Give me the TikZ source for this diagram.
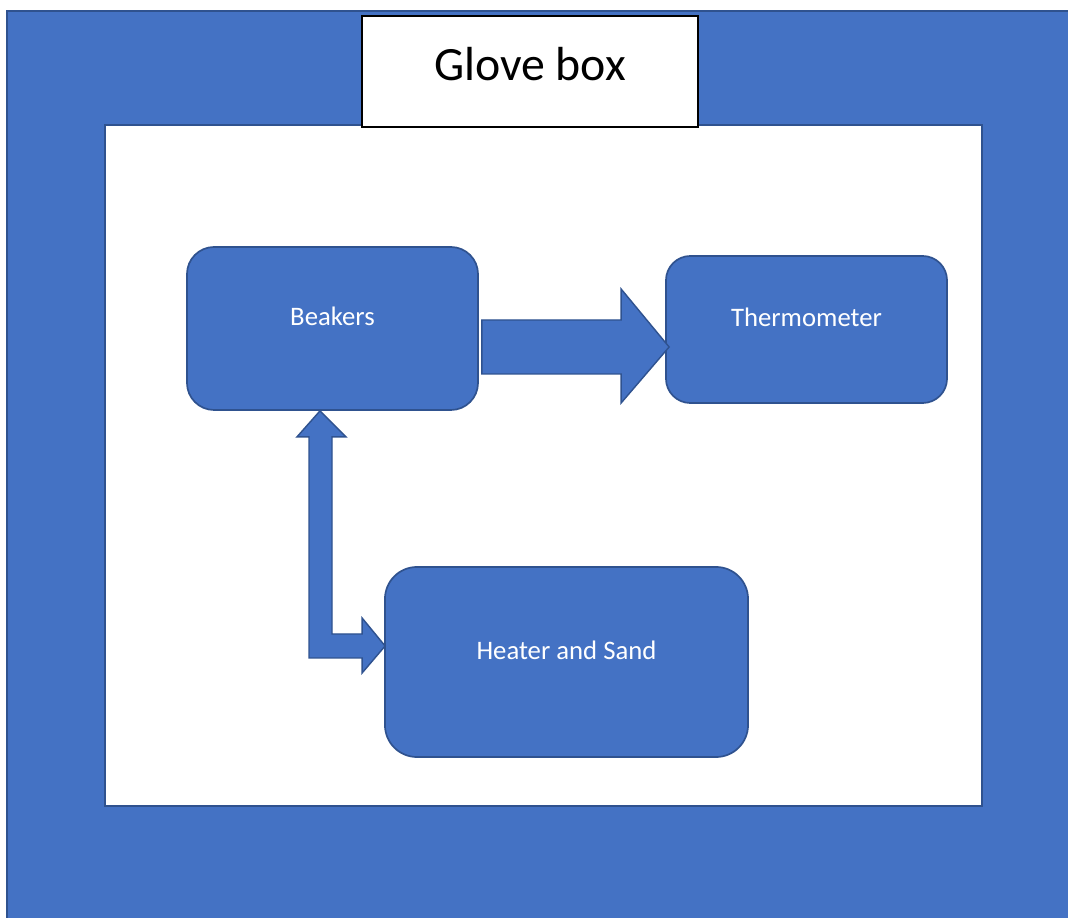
\documentclass[tikz,border=0pt]{standalone}
\usepackage{fontspec}
\setmainfont{Carlito}
\usetikzlibrary{calc,positioning}
\definecolor{boxblue}{RGB}{68,114,196}
\definecolor{edgeblue}{RGB}{47,82,143}
\newcommand{\px}{0.025cm}
\tikzset{
  frame/.style={fill=boxblue, draw=edgeblue, line width=1.5pt},
  inbox/.style={fill=white, draw=edgeblue, line width=1.2pt},
  ttlbox/.style={draw=black, fill=white, line width=0.9pt, minimum width=8.4cm,
      minimum height=2.775cm, font=\fontsize{34}{40}\selectfont,
      text height=24pt, text depth=11pt},
  part/.style={fill=boxblue, draw=edgeblue, line width=1.2pt, text=white,
      font=\fontsize{19}{22}\selectfont, text height=14pt, text depth=18pt},
  barr/.style={fill=boxblue, draw=edgeblue, line width=1pt, line join=miter},
}

\begin{document}
\begin{tikzpicture}[x=\px, y=-\px]
\useasboundingbox (0,0) rectangle (1068,918);
\clip (0,0) rectangle (1068,918);
\draw[frame] (7,11) rectangle (1080,930);
\draw[inbox] (105,125) rectangle (982,806);
\node[ttlbox] (title) at (530,71.5) {Glove box};

\node[part, minimum width=7.275cm, minimum height=4.075cm, rounded corners=0.68cm]
  (beakers) at (332.5,328.5) {Beakers};
\node[part, minimum width=7.025cm, minimum height=3.675cm, rounded corners=0.61cm]
  (thermo) at (806.5,329.5) {Thermometer};
\node[part, minimum width=9.075cm, minimum height=4.75cm, rounded corners=0.8cm]
  (heater) at (566.5,662) {Heater and Sand};

% block arrow beakers -> thermometer
\coordinate (rtail) at ($(beakers.east)+(3,18.5)$);
\coordinate (rtip) at ($(thermo.west)+(4,17.5)$);
\draw[barr] ($(rtail)+(0,-27)$) -- ($(rtip)+(-48,-27)$) -- ($(rtip)+(-48,-58)$)
  -- (rtip) -- ($(rtip)+(-48,56)$) -- ($(rtip)+(-48,27)$) -- ($(rtail)+(0,27)$) -- cycle;

% bent double arrow beakers <-> heater
\coordinate (utip) at ($(beakers.south)+(-12.5,0)$);
\coordinate (htip) at ($(heater.west)+(1,-16)$);
\coordinate (elbow) at (utip |- htip);
\draw[barr] (utip) -- ($(utip)+(26,26)$) -- ($(utip)+(12,26)$) -- ($(elbow)+(12,-12)$)
  -- ($(htip)+(-23,-12)$) -- ($(htip)+(-23,-28)$) -- (htip) -- ($(htip)+(-23,27)$)
  -- ($(htip)+(-23,12)$) -- ($(elbow)+(-11,12)$) -- ($(utip)+(-11,26)$)
  -- ($(utip)+(-23,26)$) -- cycle;
\end{tikzpicture}
\end{document}
